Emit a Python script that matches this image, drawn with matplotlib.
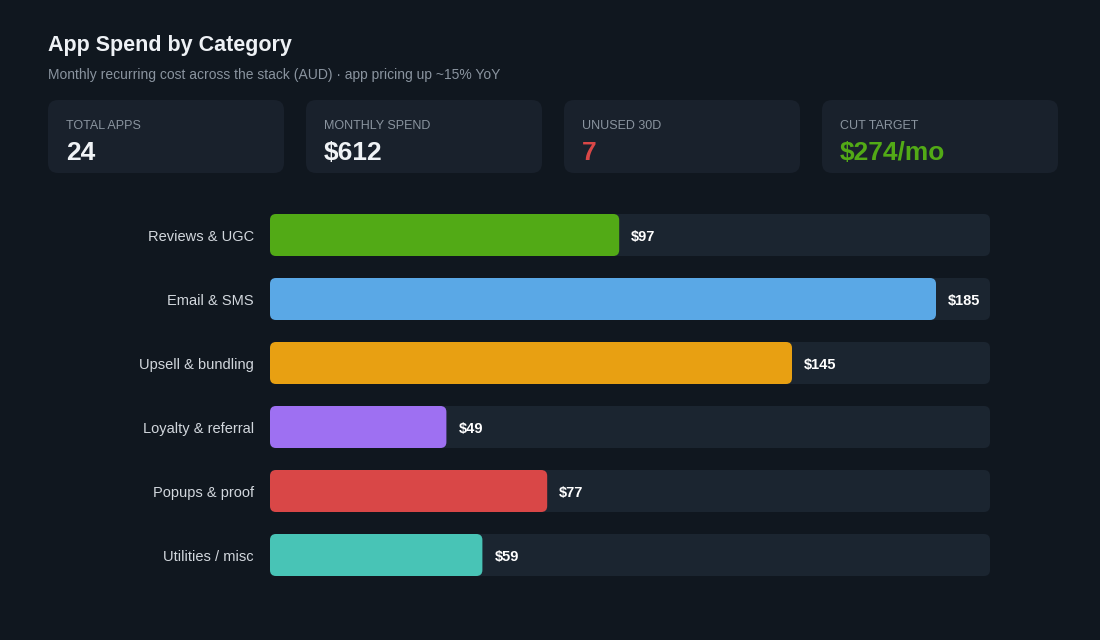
import matplotlib.pyplot as plt
from matplotlib.patches import FancyBboxPatch

plt.rcParams["font.family"] = ["Liberation Sans", "DejaVu Sans"]

# ─── DATA ─────────────────────────────────────────────
categories = ["Reviews & UGC", "Email & SMS", "Upsell & bundling",
              "Loyalty & referral", "Popups & proof", "Utilities / misc"]
spend = [97, 185, 145, 49, 77, 59]
bar_colors = ["#52aa16", "#5aa8e6", "#e8a012", "#9e70f2", "#d94747", "#48c4b6"]
scale_max = 200

kpi_labels = ["TOTAL APPS", "MONTHLY SPEND", "UNUSED 30D", "CUT TARGET"]
kpi_values = ["24", "$612", "7", "$274/mo"]
kpi_colors = ["#f0f3f6", "#f0f3f6", "#d94747", "#52aa16"]

BG = "#10171f"
CARD = "#19212c"
TRACK = "#1b2530"

W, H = 1100, 640
fig = plt.figure(figsize=(W / 100, H / 100), dpi=100)
fig.patch.set_facecolor(BG)


def fx(px):
    return px / W


def fy(py):
    return 1 - py / H


# ─── HEADER ───────────────────────────────────────────
fig.text(fx(48), fy(46), "App Spend by Category", fontsize=15.5, fontweight="bold",
         color="#eef1f5", va="center", ha="left")
fig.text(fx(48), fy(75), "Monthly recurring cost across the stack (AUD) · app pricing up ~15% YoY",
         fontsize=10, color="#8a949f", va="center", ha="left")

# ─── KPI CARDS ────────────────────────────────────────
card_w, card_h, card_gap = 236, 73, 22
for i, (lab, val, col) in enumerate(zip(kpi_labels, kpi_values, kpi_colors)):
    x0 = 48 + i * (card_w + card_gap)
    box = FancyBboxPatch((fx(x0), fy(100 + card_h)), fx(card_w), card_h / H,
                         boxstyle=f"round,pad=0,rounding_size={fx(10)}",
                         mutation_aspect=W / H,
                         transform=fig.transFigure, facecolor=CARD, edgecolor="none")
    fig.patches.append(box)
    fig.text(fx(x0 + 18), fy(126), lab, fontsize=9, color="#8a949f", va="center", ha="left")
    fig.text(fx(x0 + 18), fy(153), val, fontsize=19, fontweight="bold", color=col,
             va="center", ha="left")

# ─── BARS ─────────────────────────────────────────────
row_px = 64
ax = fig.add_axes([fx(270), fy(203 + row_px * len(categories)), fx(720),
                   row_px * len(categories) / H])
ax.set_facecolor("none")
ax.set_xlim(0, scale_max)
ax.set_ylim(len(categories) - 0.5, -0.5)
ax.axis("off")

bar_h = 42 / row_px
px_per_x = 720 / scale_max
aspect = px_per_x / row_px
radius = 6 / px_per_x

for i, (cat, v, c) in enumerate(zip(categories, spend, bar_colors)):
    track = FancyBboxPatch((0, i - bar_h / 2), scale_max, bar_h,
                           boxstyle=f"round,pad=0,rounding_size={radius}",
                           mutation_aspect=aspect, facecolor=TRACK, edgecolor="none")
    ax.add_patch(track)
    bar = FancyBboxPatch((0, i - bar_h / 2), v, bar_h,
                         boxstyle=f"round,pad=0,rounding_size={radius}",
                         mutation_aspect=aspect, facecolor=c, edgecolor="none")
    ax.add_patch(bar)
    ax.text(v + 12 / px_per_x, i + 2 / row_px, f"${v}", fontsize=10.5, fontweight="bold",
            color="#ffffff", va="center", ha="left")
    ax.text(-16 / px_per_x, i + 2 / row_px, cat, fontsize=10.5, color="#d2d7dd",
            va="center", ha="right", clip_on=False)

fig.savefig("out.png", dpi=100, facecolor=BG)
